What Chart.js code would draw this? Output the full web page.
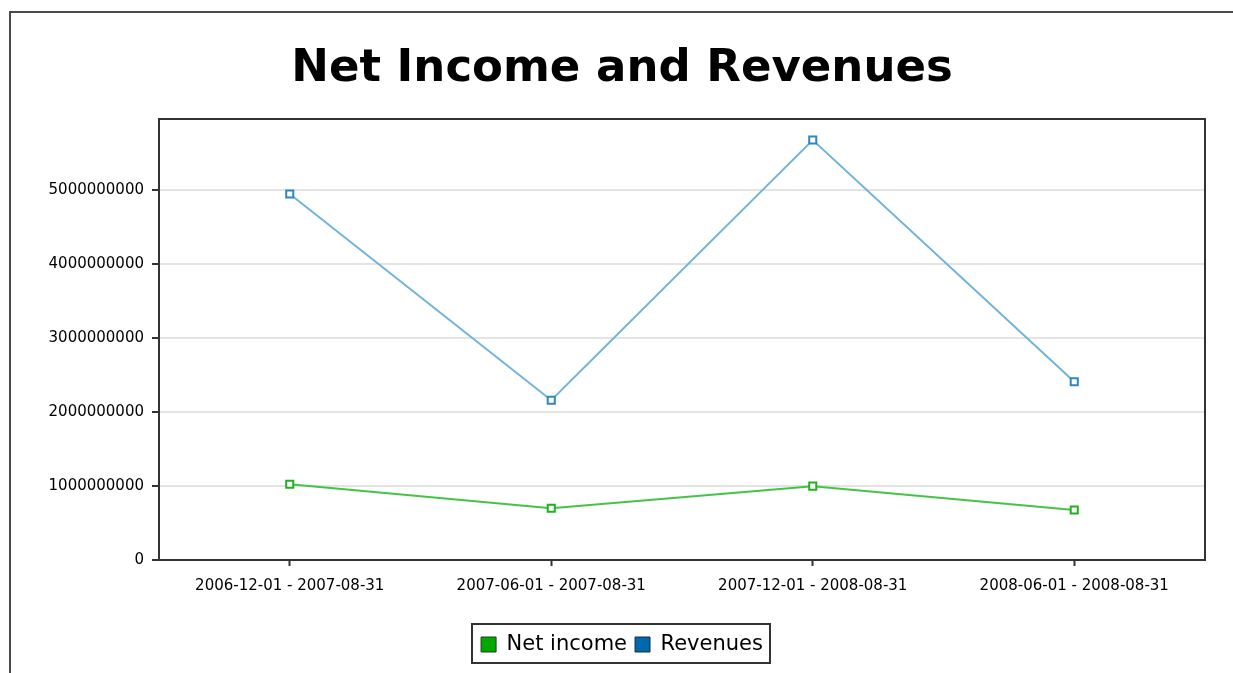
<!DOCTYPE html>
<html>
<head>
<meta charset="utf-8">
<script src="https://cdn.jsdelivr.net/npm/chart.js@4.4.0/dist/chart.umd.min.js"></script>
<style>
  body { margin: 0; background: #fff; }
  #frame { position: absolute; left: 9px; top: 11px; width: 1240px; height: 700px; border: 2px solid #4a4a4a; }
  #myChart { position: absolute; left: 0; top: 0; }
</style>
</head>
<body>
<div id="frame"></div>
<canvas id="myChart" width="1233" height="673"></canvas>
<script>
// periods on the x axis
const periods = [
  "2006-12-01 - 2007-08-31",
  "2007-06-01 - 2007-08-31",
  "2007-12-01 - 2008-08-31",
  "2008-06-01 - 2008-08-31"
];
const netIncome = [1023000000, 700000000, 998000000, 676000000];
const revenues = [4946000000, 2160000000, 5676000000, 2410000000];
const yTicks = [0, 1000000000, 2000000000, 3000000000, 4000000000, 5000000000];

const tickFont = { family: "'DejaVu Sans', sans-serif", size: 15 };

// box round the legend items
const legendBox = {
  id: "legendBox",
  afterDraw(chart) {
    const boxes = chart.legend.legendHitBoxes;
    if (!boxes || !boxes.length) return;
    let l = Infinity, r = -Infinity, t = Infinity, b = -Infinity;
    boxes.forEach(h => {
      l = Math.min(l, h.left); r = Math.max(r, h.left + h.width);
      t = Math.min(t, h.top); b = Math.max(b, h.top + h.height);
    });
    const ctx = chart.ctx;
    ctx.save();
    ctx.strokeStyle = "#333";
    ctx.lineWidth = 2;
    ctx.strokeRect(Math.round(l) - 9, Math.round(t) - 10, Math.round(r - l) + 16, Math.round(b - t) + 18);
    ctx.restore();
  }
};

// plot frame on all four sides
const plotFrame = {
  id: "plotFrame",
  beforeDatasetsDraw(chart) {
    const a = chart.chartArea;
    const ctx = chart.ctx;
    ctx.save();
    ctx.strokeStyle = "#333";
    ctx.lineWidth = 2;
    ctx.strokeRect(a.left, a.top, a.right - a.left, a.bottom - a.top);
    ctx.restore();
  }
};

const ctx = document.getElementById("myChart");
new Chart(ctx, {
  type: "line",
  data: {
    labels: periods,
    datasets: [
      {
        label: "Net income",
        data: netIncome,
        borderColor: "#44c444",
        borderWidth: 2,
        pointStyle: "rect",
        pointRadius: 5,
        pointBorderWidth: 2,
        pointBorderColor: "#22b022",
        pointBackgroundColor: "#fff",
        tension: 0
      },
      {
        label: "Revenues",
        data: revenues,
        borderColor: "#70b4dc",
        borderWidth: 2,
        pointStyle: "rect",
        pointRadius: 5,
        pointBorderWidth: 2,
        pointBorderColor: "#2f86c4",
        pointBackgroundColor: "#fff",
        tension: 0
      }
    ]
  },
  options: {
    responsive: false,
    animation: false,
    devicePixelRatio: 1,
    layout: { padding: { left: 39, right: 28, top: 0, bottom: 8 } },
    plugins: {
      title: {
        display: true,
        text: "Net Income and Revenues",
        color: "#000",
        font: { family: "'DejaVu Sans', sans-serif", size: 45, weight: "bold", lineHeight: 1 },
        padding: { top: 47, bottom: 27 }
      },
      legend: {
        position: "bottom",
        labels: {
          color: "#000",
          font: { family: "'DejaVu Sans', sans-serif", size: 21 },
          boxWidth: 15,
          boxHeight: 15,
          padding: 8,
          generateLabels() {
            return [
              { text: "Net income", fillStyle: "#00a800", strokeStyle: "#1d3d1d", lineWidth: 1, datasetIndex: 0 },
              { text: "Revenues", fillStyle: "#0068ad", strokeStyle: "#1b2d40", lineWidth: 1, datasetIndex: 1 }
            ];
          }
        }
      },
      tooltip: { enabled: false }
    },
    scales: {
      x: {
        offset: true,
        afterFit(scale) { scale.height = 66; },
        grid: { drawOnChartArea: false, tickLength: 6, tickColor: "#333", tickWidth: 2, offset: false },
        border: { display: false },
        ticks: { color: "#000", font: tickFont, padding: 11, maxRotation: 0 }
      },
      y: {
        min: 0,
        max: 5960000000,
        afterFit(scale) { scale.width = 120; },
        afterBuildTicks(scale) { scale.ticks = yTicks.map(v => ({ value: v })); },
        grid: { color: "#e4e4e4", lineWidth: 2, tickLength: 7, tickColor: "#333", tickWidth: 2 },
        border: { display: false },
        ticks: { color: "#000", font: tickFont, padding: 8, callback: v => String(v) }
      }
    }
  },
  plugins: [plotFrame, legendBox]
});
</script>
</body>
</html>
